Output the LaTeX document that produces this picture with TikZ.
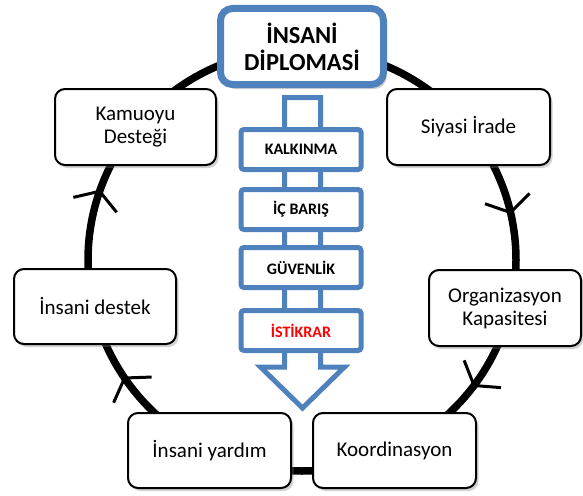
\documentclass[tikz,border=0pt]{standalone}
\usepackage{fontspec}
\setmainfont{Carlito}
\usetikzlibrary{shadows,calc}
\definecolor{obl}{RGB}{79,129,189}
\begin{document}
\begin{tikzpicture}[x=1pt,y=-1pt,
  cyc/.style={rounded corners=10pt, draw=black, line width=2pt, fill=white,
    align=center, inner sep=2pt, font=\fontsize{21}{23}\selectfont,
    drop shadow={opacity=0.35, shadow xshift=2.5pt, shadow yshift=-3pt}},
  topbox/.style={rounded corners=12pt, draw=obl, line width=7pt, fill=white,
    align=center, inner sep=0pt, font=\bfseries\fontsize{24.5}{27}\selectfont,
    drop shadow={opacity=0.35, shadow xshift=3pt, shadow yshift=-4.5pt}},
  bluebox/.style={rounded corners=3pt, draw=obl, line width=5pt, fill=white,
    inner sep=0pt, minimum width=120pt, minimum height=40pt,
    font=\bfseries\fontsize{16}{18}\selectfont},
  ring/.style={line width=7.5pt, black},
  arm/.style={line width=3pt, black}]
\useasboundingbox (0,0) rectangle (583,495);
\fill[white] (0,0) rectangle (583,495);
% cycle ring
\coordinate (c) at (302,260);
\draw[ring] (c) ellipse [x radius=214, y radius=211];
\foreach \a in {-13,36.5,146,199}{
  \path (c) ++(\a:214 and 211) coordinate (v);
  \draw[arm] ($(v)+(\a-32:27)$) -- (v) -- ($(v)+(\a-148:27)$);
}
% block arrow
\draw[obl, line width=5pt, fill=white, line join=miter]
  (284.5,97.5) -- (284.5,367) -- (260.5,367) -- (302.5,408) -- (344.5,367)
  -- (320.5,367) -- (320.5,97.5) -- cycle;
\node[bluebox] (k1) at (301,149.5) {KALKINMA};
\node[bluebox] (k2) at (301,209.5) {İÇ BARIŞ};
\node[bluebox] (k3) at (301,267.5) {GÜVENLİK};
\node[bluebox, text=red] (k4) at (301,330.5) {İSTİKRAR};
% cycle boxes
\node[topbox, minimum width=163pt, minimum height=76pt] (top) at (302,46.5) {İNSANİ\\DİPLOMASİ};
\node[cyc, minimum width=163pt, minimum height=76pt] (siyasi) at (468.5,127) {Siyasi İrade};
\node[cyc, minimum width=161pt, minimum height=76pt] (kamu) at (135.5,127) {Kamuoyu\\Desteği};
\node[cyc, minimum width=152pt, minimum height=76pt] (org) at (505,308) {Organizasyon\\Kapasitesi};
\node[cyc, minimum width=162pt, minimum height=75pt] (destek) at (95,306.5) {İnsani destek};
\node[cyc, minimum width=163pt, minimum height=75pt] (yardim) at (209.5,450.5) {İnsani yardım};
\node[cyc, minimum width=163pt, minimum height=75pt] (koord) at (394.5,450.5) {Koordinasyon};
\end{tikzpicture}
\end{document}
